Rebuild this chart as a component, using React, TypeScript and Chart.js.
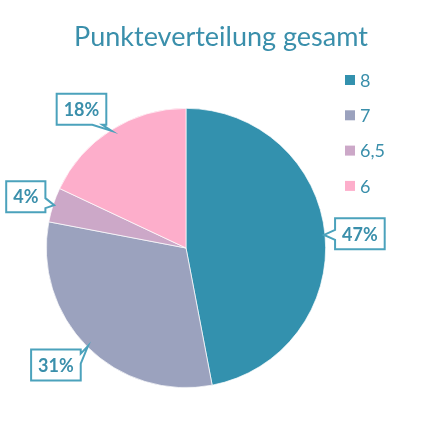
import { useEffect, useRef } from "react";
import { Chart, registerables } from "chart.js";

Chart.register(...registerables);

const TITLE = "Punkteverteilung gesamt";
const categories = ["8", "7", "6,5", "6"];
const shares = [47, 31, 4, 18];
const colors = ["#3391ae", "#9ba2be", "#cca8c8", "#fdaecb"];

const TEAL = "#3a8fab";
const FONT = "Lato, 'Open Sans', sans-serif";

// small hand tweaks so the callouts sit where the original ones do
const calloutNudge = [
  [2, 2],
  [-8, -5],
  [4, 2],
  [-12, 7],
];

// title + legend on the right, drawn by hand so the placement matches
const headerPlugin = {
  id: "header",
  afterDraw(chart: any) {
    const ctx = chart.ctx;
    ctx.save();
    ctx.fillStyle = TEAL;
    ctx.textAlign = "center";
    ctx.textBaseline = "middle";
    ctx.font = `27px ${FONT}`;
    ctx.fillText(TITLE, 221, 37);

    ctx.font = `18px ${FONT}`;
    ctx.textAlign = "left";
    const labels = chart.data.labels as string[];
    const bg = chart.data.datasets[0].backgroundColor as string[];
    labels.forEach((lab, i) => {
      const y = 80 + i * 35.3;
      ctx.fillStyle = bg[i];
      ctx.fillRect(345, y - 5, 10, 10);
      ctx.fillStyle = TEAL;
      ctx.fillText(lab, 360, y + 1);
    });
    ctx.restore();
  },
};

// percentage callouts with a small pointer toward the slice
const calloutPlugin = {
  id: "callouts",
  afterDatasetsDraw(chart: any) {
    const ctx = chart.ctx;
    const meta = chart.getDatasetMeta(0);
    const data = chart.data.datasets[0].data as number[];
    const total = data.reduce((a, b) => a + b, 0);
    ctx.save();
    ctx.font = `bold 18px ${FONT}`;
    meta.data.forEach((arc: any, i: number) => {
      const { x, y, startAngle, endAngle, outerRadius } = arc.getProps(
        ["x", "y", "startAngle", "endAngle", "outerRadius"],
        true
      );
      const mid = (startAngle + endAngle) / 2;
      const tipX = x + Math.cos(mid) * (outerRadius - 1);
      const tipY = y + Math.sin(mid) * (outerRadius - 1);
      const bx = x + Math.cos(mid) * (outerRadius + 33) + calloutNudge[i][0];
      const by = y + Math.sin(mid) * (outerRadius + 33) + calloutNudge[i][1];
      const text = Math.round((data[i] / total) * 100) + "%";
      const w = ctx.measureText(text).width + 14;
      const h = 31;
      const l = bx - w / 2, r = bx + w / 2, t = by - h / 2, b = by + h / 2;
      const dx = (tipX - bx) / (w / 2);
      const dy = (tipY - by) / (h / 2);
      const clamp = (v: number, lo: number, hi: number) => Math.max(lo, Math.min(hi, v));
      const half = 5;

      ctx.beginPath();
      ctx.moveTo(l, t);
      if (Math.abs(dy) >= Math.abs(dx) && dy < 0) {
        const c = clamp(tipX, l + half + 4, r - half - 4);
        ctx.lineTo(c - half, t);
        ctx.lineTo(tipX, tipY);
        ctx.lineTo(c + half, t);
      }
      ctx.lineTo(r, t);
      if (Math.abs(dx) > Math.abs(dy) && dx > 0) {
        const c = clamp(tipY, t + half + 4, b - half - 4);
        ctx.lineTo(r, c - half);
        ctx.lineTo(tipX, tipY);
        ctx.lineTo(r, c + half);
      }
      ctx.lineTo(r, b);
      if (Math.abs(dy) >= Math.abs(dx) && dy > 0) {
        const c = clamp(tipX, l + half + 4, r - half - 4);
        ctx.lineTo(c + half, b);
        ctx.lineTo(tipX, tipY);
        ctx.lineTo(c - half, b);
      }
      ctx.lineTo(l, b);
      if (Math.abs(dx) > Math.abs(dy) && dx < 0) {
        const c = clamp(tipY, t + half + 4, b - half - 4);
        ctx.lineTo(l, c + half);
        ctx.lineTo(tipX, tipY);
        ctx.lineTo(l, c - half);
      }
      ctx.closePath();
      ctx.fillStyle = "#ffffff";
      ctx.fill();
      ctx.lineWidth = 2;
      ctx.strokeStyle = "#4ba2bc";
      ctx.stroke();

      ctx.fillStyle = TEAL;
      ctx.textAlign = "center";
      ctx.textBaseline = "middle";
      ctx.fillText(text, bx, by + 1);
    });
    ctx.restore();
  },
};

export default function App() {
  const chartRef = useRef<HTMLCanvasElement>(null);
  const chartInstance = useRef<Chart | null>(null);

  useEffect(() => {
    if (!chartRef.current) return;
    if (chartInstance.current) chartInstance.current.destroy();

    const ctx = chartRef.current.getContext("2d");
    if (!ctx) return;

    chartInstance.current = new Chart(ctx, {
      type: "pie",
      data: {
        labels: categories,
        datasets: [
          {
            data: shares,
            backgroundColor: colors,
            borderColor: "#ffffff",
            borderWidth: 0.7,
          },
        ],
      },
      options: {
        responsive: true,
        maintainAspectRatio: false,
        animation: false,
        layout: { padding: { top: 108, left: 46, right: 117, bottom: 55 } },
        plugins: {
          legend: { display: false },
          title: { display: false },
          tooltip: { enabled: false },
        },
      },
      plugins: [calloutPlugin, headerPlugin],
    });

    return () => {
      if (chartInstance.current) {
        chartInstance.current.destroy();
        chartInstance.current = null;
      }
    };
  }, []);

  return (
    <div style={{ position: "absolute", left: 0, top: 0, width: 443, height: 443, background: "#fff" }}>
      <canvas ref={chartRef}></canvas>
    </div>
  );
}
